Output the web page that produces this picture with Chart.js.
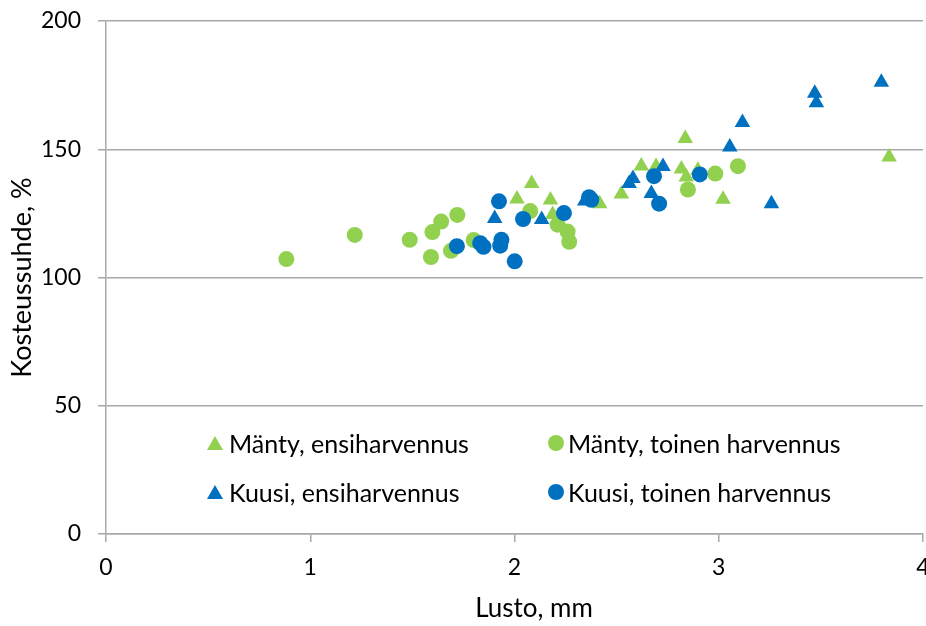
<!DOCTYPE html>
<html lang="fi">
<head>
<meta charset="utf-8">
<title>Kosteussuhde ja lusto</title>
<script src="https://cdn.jsdelivr.net/npm/chart.js@4/dist/chart.umd.min.js"></script>
<style>
    body { margin: 0; background: #fff; }
    #wrap { position: relative; width: 926px; height: 626px; overflow: hidden; }
    .leg { position: absolute; font-family: Lato, "Open Sans", sans-serif; font-size: 25px; color: #000;
           line-height: 30px; transform: translateY(-50%); white-space: nowrap; }
    .mark { position: absolute; }
</style>
</head>
<body>
<div id="wrap">
    <!-- kanvas on hieman leveämpi, jotta pisteiden reunavara jää näkyvän alueen ulkopuolelle -->
    <canvas id="chart" width="932" height="626"></canvas>
    <div id="legend"></div>
</div>
<script>
// Sarjojen nimet ja värit
const SERIES_NAMES = ['Mänty, ensiharvennus', 'Mänty, toinen harvennus', 'Kuusi, ensiharvennus', 'Kuusi, toinen harvennus'];
const GREEN = '#92D050';
const BLUE = '#0070C0';

// Akseleiden otsikot ja asteikot
const X_TITLE = 'Lusto, mm';
const Y_TITLE = 'Kosteussuhde, %';
const X_TICKS = [0, 1, 2, 3, 4];
const Y_TICKS = [0, 50, 100, 150, 200];

// Mänty, ensiharvennus (kolmiot)
const manty1X = [2.012, 2.084, 2.176, 2.187, 2.417, 2.523, 2.621, 2.693, 2.836, 2.817, 2.841, 2.898, 3.021, 3.834];
const manty1Y = [130.6, 136.6, 130.2, 124.6, 128.8, 132.6, 143.5, 143.3, 154.2, 142.3, 139.2, 141.8, 130.5, 147.0];

// Mänty, toinen harvennus (ympyrät)
const manty2X = [0.883, 1.218, 1.487, 1.598, 1.591, 1.641, 1.720, 1.689, 1.800, 2.077, 2.211, 2.260, 2.268, 2.849, 2.983, 3.094];
const manty2Y = [107.2, 116.6, 114.7, 117.7, 108.0, 121.8, 124.4, 110.4, 114.6, 125.9, 120.6, 117.9, 113.9, 134.3, 140.5, 143.4];

// Kuusi, ensiharvennus (kolmiot)
const kuusi1X = [1.903, 2.133, 2.344, 2.561, 2.580, 2.670, 2.727, 3.054, 3.116, 3.258, 3.470, 3.478, 3.796];
const kuusi1Y = [123.0, 122.6, 129.8, 136.6, 138.6, 132.7, 143.3, 150.9, 160.4, 128.8, 171.8, 168.1, 176.1];

// Kuusi, toinen harvennus (ympyrät)
const kuusi2X = [1.718, 1.832, 1.848, 1.924, 1.936, 1.930, 2.001, 2.042, 2.242, 2.365, 2.376, 2.683, 2.708, 2.907];
const kuusi2Y = [112.2, 113.4, 112.0, 129.7, 114.7, 112.4, 106.3, 122.8, 125.1, 131.3, 130.3, 139.5, 128.8, 140.2];

const FONT = 'Lato, "Open Sans", sans-serif';
const GRID = '#A8A8A8';

// Yhdistetään x- ja y-taulukot pisteiksi
const toPoints = (xs, ys) => xs.map((x, i) => ({ x: x, y: ys[i] }));

const makeSet = (label, xs, ys, color, style, order) => ({
    label: label,
    data: toPoints(xs, ys),
    backgroundColor: color,
    borderWidth: 0,
    pointStyle: style,
    pointRadius: style === 'triangle' ? 9 : 8,
    order: order
});

const DATASETS = [
    makeSet(SERIES_NAMES[0], manty1X, manty1Y, GREEN, 'triangle', 3),
    makeSet(SERIES_NAMES[1], manty2X, manty2Y, GREEN, 'circle', 2),
    makeSet(SERIES_NAMES[2], kuusi1X, kuusi1Y, BLUE, 'triangle', 1),
    makeSet(SERIES_NAMES[3], kuusi2X, kuusi2Y, BLUE, 'circle', 0)
];

// X-akselin otsikko piirretään omalla paikallaan
const xTitlePlugin = {
    id: 'xTitle',
    afterDraw(chart) {
        const ctx = chart.ctx;
        ctx.save();
        ctx.font = '26px ' + FONT;
        ctx.fillStyle = '#000';
        ctx.textAlign = 'center';
        ctx.textBaseline = 'middle';
        ctx.fillText(X_TITLE, 534, 609);
        ctx.restore();
    }
};

new Chart(document.getElementById('chart'), {
    type: 'scatter',
    data: { datasets: DATASETS },
    plugins: [xTitlePlugin],
    options: {
        responsive: false,
        animation: false,
        events: [],
        layout: { padding: { top: 21, right: 0, left: 0, bottom: 0 } },
        plugins: {
            legend: { display: false },
            tooltip: { enabled: false }
        },
        scales: {
            x: {
                type: 'linear',
                min: X_TICKS[0],
                max: X_TICKS[X_TICKS.length - 1],
                afterBuildTicks: (scale) => { scale.ticks = X_TICKS.map(v => ({ value: v })); },
                afterFit: (scale) => { scale.height = 92; scale.paddingLeft = 0; scale.paddingRight = 0; },
                ticks: { color: '#000', font: { family: FONT, size: 23 }, padding: 12, maxRotation: 0 },
                grid: { drawOnChartArea: false, drawTicks: true, tickLength: 8, color: GRID, lineWidth: 1.5 },
                border: { display: true, color: GRID, width: 1.5 }
            },
            y: {
                type: 'linear',
                min: Y_TICKS[0],
                max: Y_TICKS[Y_TICKS.length - 1],
                afterBuildTicks: (scale) => { scale.ticks = Y_TICKS.map(v => ({ value: v })); },
                afterFit: (scale) => { scale.width = 106; scale.paddingTop = 0; scale.paddingBottom = 0; },
                ticks: { color: '#000', font: { family: FONT, size: 23 }, padding: 17 },
                grid: { drawTicks: true, tickLength: 8, color: GRID, lineWidth: 1.5 },
                border: { display: true, color: GRID, width: 1.5 },
                title: { display: true, text: Y_TITLE, color: '#000', font: { family: FONT, size: 27 }, padding: { top: 6, bottom: 0 } }
            }
        }
    }
});

// Selite piirretään kuvaajan sisälle kahteen sarakkeeseen
const LEGEND_POS = [
    { mx: 215, tx: 229, y: 443 },
    { mx: 556, tx: 568, y: 443 },
    { mx: 215, tx: 229, y: 492 },
    { mx: 556, tx: 568, y: 492 }
];
const legendBox = document.getElementById('legend');
DATASETS.forEach((ds, i) => {
    const p = LEGEND_POS[i];
    const mark = document.createElement('div');
    mark.className = 'mark';
    if (ds.pointStyle === 'triangle') {
        mark.style.cssText = `left:${p.mx - 8}px;top:${p.y - 7}px;width:0;height:0;border-left:8px solid transparent;border-right:8px solid transparent;border-bottom:14px solid ${ds.backgroundColor};`;
    } else {
        mark.style.cssText = `left:${p.mx - 8}px;top:${p.y - 8}px;width:16px;height:16px;border-radius:50%;background:${ds.backgroundColor};`;
    }
    legendBox.appendChild(mark);
    const text = document.createElement('div');
    text.className = 'leg';
    text.style.left = p.tx + 'px';
    text.style.top = p.y + 'px';
    text.textContent = ds.label;
    legendBox.appendChild(text);
});
</script>
</body>
</html>
